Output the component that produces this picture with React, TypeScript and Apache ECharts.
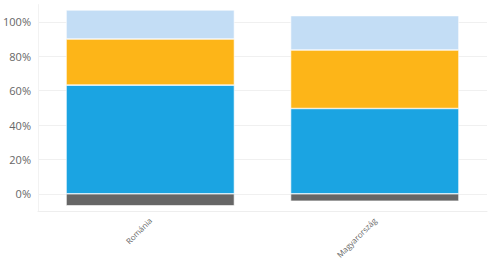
import React, { useEffect, useRef } from "react";
import * as echarts from "echarts";

const categories = ["Románia", "Magyarország"];
const grayValues = [-7.0, -4.3];
const blueValues = [63.2, 49.6];
const orangeValues = [26.8, 34.0];
const lightBlueValues = [16.9, 20.0];

export default function App() {
  const ref = useRef<HTMLDivElement>(null);
  useEffect(() => {
    document.body.style.margin = "0";
    if (!ref.current) return;
    const chart = echarts.init(ref.current, null, { renderer: "svg" });
    const mk = (name: string, data: number[], color: string) => ({
      name,
      type: "bar",
      stack: "total",
      data,
      barCategoryGap: "25%",
      itemStyle: { color, borderColor: "#ffffff", borderWidth: 0.6 },
    });
    chart.setOption({
      animation: false,
      grid: { left: 38, right: 13, top: 4.6, bottom: 50, containLabel: false },
      xAxis: {
        type: "category",
        data: categories,
        axisLine: { onZero: false, lineStyle: { color: "#eeeeee" } },
        axisTick: { alignWithLabel: true, length: 4, lineStyle: { color: "#eeeeee" } },
        axisLabel: {
          rotate: 45,
          color: "#666666",
          fontSize: 8,
          fontFamily: "Open Sans",
          margin: 8,
        },
      },
      yAxis: {
        type: "value",
        min: -10,
        max: 110,
        interval: 10,
        axisLine: { show: true, lineStyle: { color: "#f2f2f2" } },
        axisTick: { show: false },
        axisLabel: {
          color: "#666666",
          fontSize: 11,
          fontFamily: "Open Sans",
          margin: 7,
          formatter: (v: number) => (Math.round(v) % 20 === 0 && v >= 0 && v <= 100 ? v + "%" : ""),
        },
        splitLine: {
          show: true,
          lineStyle: { color: ["rgba(0,0,0,0)", "#f0f0f0"] },
        },
      },
      series: [
        mk("gray", grayValues, "#666666"),
        mk("blue", blueValues, "#1ba4e2"),
        mk("orange", orangeValues, "#fdb518"),
        mk("lightblue", lightBlueValues, "#c3ddf5"),
      ],
    });
    return () => chart.dispose();
  }, []);
  return <div ref={ref} style={{ width: 500, height: 261 }} />;
}
